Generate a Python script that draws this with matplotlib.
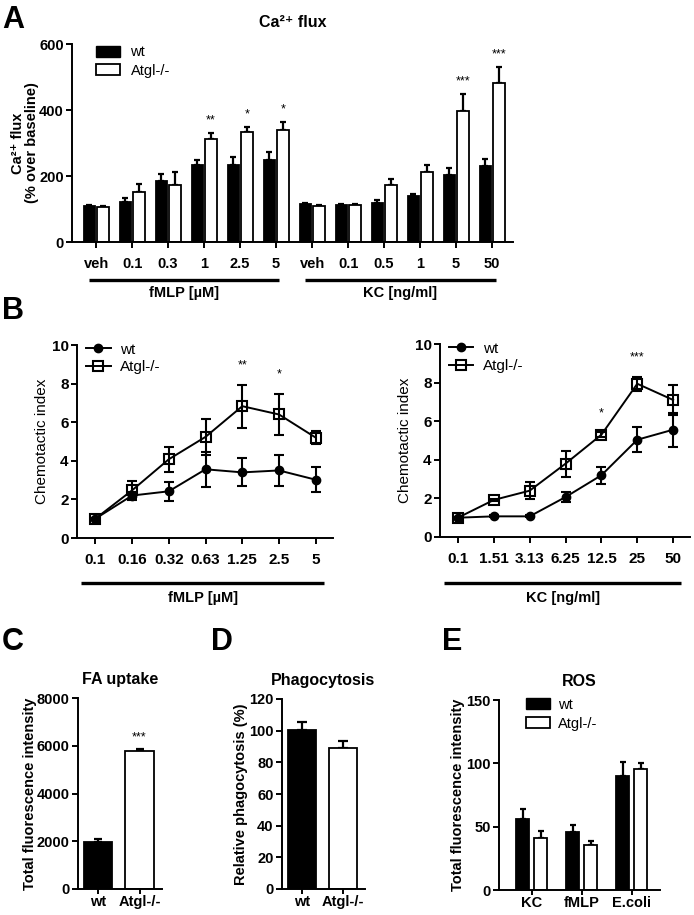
import numpy as np
import matplotlib
matplotlib.use('Agg')
import matplotlib.pyplot as plt
from matplotlib.patches import Patch
from matplotlib.lines import Line2D
from matplotlib.transforms import blended_transform_factory

plt.rcParams['font.family'] = ['Liberation Sans', 'DejaVu Sans']
plt.rcParams['axes.linewidth'] = 1.4

# ---- A: Ca2+ flux
ca_labels = ['veh', '0.1', '0.3', '1', '2.5', '5', 'veh', '0.1', '0.5', '1', '5', '50']
ca_wt = [108, 121, 184, 232, 232, 247, 116, 113, 118, 138, 204, 230]
ca_wt_err = [3, 12, 23, 17, 25, 25, 3, 3, 8, 8, 20, 22]
ca_ko = [107, 153, 174, 312, 333, 338, 109, 111, 173, 211, 398, 482]
ca_ko_err = [3, 23, 38, 18, 17, 25, 3, 3, 18, 23, 51, 47]
ca_stars = {3: '**', 4: '*', 5: '*', 10: '***', 11: '***'}

# ---- B: chemotaxis
fmlp_labels = ['0.1', '0.16', '0.32', '0.63', '1.25', '2.5', '5']
fmlp_wt = [1.0, 2.2, 2.42, 3.56, 3.4, 3.5, 3.02]
fmlp_wt_err = [0.05, 0.2, 0.48, 0.9, 0.72, 0.78, 0.66]
fmlp_ko = [1.0, 2.47, 4.08, 5.24, 6.83, 6.4, 5.2]
fmlp_ko_err = [0.05, 0.5, 0.65, 0.95, 1.12, 1.05, 0.35]
fmlp_stars = {4: '**', 5: '*'}

kc_labels = ['0.1', '1.51', '3.13', '6.25', '12.5', '25', '50']
kc_wt = [1.0, 1.07, 1.07, 2.07, 3.2, 5.04, 5.56]
kc_wt_err = [0.05, 0.05, 0.05, 0.25, 0.45, 0.65, 0.88]
kc_ko = [1.0, 1.92, 2.4, 3.8, 5.3, 7.94, 7.1]
kc_ko_err = [0.05, 0.06, 0.45, 0.67, 0.12, 0.35, 0.8]
kc_stars = {4: '*', 5: '***'}

# ---- C, D, E
geno = ['wt', 'Atgl-/-']
fa_vals = [1977, 5785]
fa_err = [100, 95]
phago_vals = [100.3, 89.1]
phago_err = [5.0, 4.4]
ros_labels = ['KC', 'fMLP', 'E.coli']
ros_wt = [55.9, 46.0, 90.3]
ros_wt_err = [8.0, 5.4, 11.0]
ros_ko = [41.2, 35.9, 95.8]
ros_ko_err = [5.4, 2.7, 4.7]

W, H = 694, 915
fig = plt.figure(figsize=(W / 100, H / 100), dpi=100)


def px_axes(l, t, r, b):
    return fig.add_axes([l / W, 1 - b / H, (r - l) / W, (b - t) / H])


def style(ax, fs=10):
    ax.spines['top'].set_visible(False)
    ax.spines['right'].set_visible(False)
    ax.tick_params(direction='out', length=4, width=1.4, labelsize=fs, pad=2)
    for lab in ax.get_xticklabels() + ax.get_yticklabels():
        lab.set_fontweight('bold')


def bar_err(ax, x, vals, err, width, color):
    ax.bar(x, vals, width, color=color, edgecolor='black', linewidth=1.3, zorder=2)
    ax.errorbar(x, vals, yerr=[np.zeros(len(err)), err], fmt='none', ecolor='black',
                elinewidth=1.6, capsize=2.5, capthick=1.6, zorder=1)


def stars(ax, x, tops, marks, dy):
    for i, s in marks.items():
        ax.annotate(s, (x[i], tops[i]), xytext=(0, dy), textcoords='offset points',
                    ha='center', va='center', fontsize=9)


def letter(x, y, s):
    fig.text(x / W, 1 - y / H, s, fontsize=22, fontweight='bold', va='top', ha='left')


# ================= A
axA = px_axes(72, 44, 513, 242)
xA = np.arange(len(ca_labels))
off, bw = 0.185, 0.32
bar_err(axA, xA - off, ca_wt, ca_wt_err, bw, 'black')
bar_err(axA, xA + off, ca_ko, ca_ko_err, bw, 'white')
stars(axA, xA + off, np.array(ca_ko) + np.array(ca_ko_err), ca_stars, 9)
axA.set_xlim(-0.67, 11.58)
axA.set_ylim(0, 600)
axA.set_yticks([0, 200, 400, 600])
axA.set_xticks(xA)
axA.set_xticklabels(ca_labels)
style(axA, 10.5)
axA.tick_params(axis='x', pad=7)
axA.set_ylabel('Ca\u00b2\u207a flux\n(% over baseline)', fontsize=10.5, fontweight='bold',
               labelpad=0, linespacing=0.95)
axA.set_title('Ca\u00b2\u207a flux', fontsize=11.5, fontweight='bold', pad=12)
axA.legend([Patch(facecolor='black', edgecolor='black'), Patch(facecolor='white', edgecolor='black', linewidth=1.3)],
           ['wt', 'Atgl-/-'], loc='upper left', bbox_to_anchor=(0.05, 1.0), frameon=False,
           fontsize=10.5, handlelength=1.7, handleheight=0.8, handletextpad=0.7,
           labelspacing=0.3, borderpad=0.1, borderaxespad=0)
trA = blended_transform_factory(axA.transData, fig.transFigure)
for (x0, x1, lab) in [(-0.2, 5.08, 'fMLP [\u00b5M]'), (5.8, 11.1, 'KC [ng/ml]')]:
    axA.plot([x0, x1], [1 - 280 / H] * 2, color='black', lw=2.4, transform=trA, clip_on=False,
             solid_capstyle='butt')
    axA.text((x0 + x1) / 2, 1 - 293 / H, lab, transform=trA, ha='center', va='center',
             fontsize=10.5, fontweight='bold')

# ================= B


def chemo(ax, labels, wt, wt_err, ko, ko_err, marks, grp):
    x = np.arange(len(labels))
    ax.errorbar(x, ko, yerr=ko_err, color='black', lw=1.4, marker='s', ms=7.5, mfc='none',
                mec='black', mew=1.5, capsize=3.5, capthick=1.5, elinewidth=1.5, zorder=3)
    ax.errorbar(x, wt, yerr=wt_err, color='black', lw=1.4, marker='o', ms=6, mfc='black',
                mec='black', capsize=3.5, capthick=1.5, elinewidth=1.5, zorder=3)
    stars(ax, x, np.array(ko) + np.array(ko_err), marks, 14)
    ax.set_xlim(-0.5, 6.47)
    ax.set_ylim(0, 10)
    ax.set_yticks([0, 2, 4, 6, 8, 10])
    ax.set_xticks(x)
    ax.set_xticklabels(labels)
    style(ax, 11)
    ax.tick_params(axis='x', pad=7)
    ax.set_ylabel('Chemotactic index', fontsize=11, labelpad=2)
    ax.legend([Line2D([], [], color='black', lw=1.4, marker='o', ms=6),
               Line2D([], [], color='black', lw=1.4, marker='s', ms=7.5, mfc='none', mew=1.5)],
              ['wt', 'Atgl-/-'], loc='upper left', bbox_to_anchor=(0.03, 1.02), frameon=False,
              fontsize=11, handlelength=1.6, handletextpad=0.6, labelspacing=0.25,
              borderpad=0.1, borderaxespad=0)
    tr = blended_transform_factory(ax.transData, fig.transFigure)
    ax.plot([-0.38, 6.22], [1 - 583 / H] * 2, color='black', lw=2.4, transform=tr, clip_on=False,
            solid_capstyle='butt')
    ax.text(2.92, 1 - 598 / H, grp, transform=tr, ha='center', va='center', fontsize=10.5,
            fontweight='bold')


axB1 = px_axes(77, 345, 333, 538)
chemo(axB1, fmlp_labels, fmlp_wt, fmlp_wt_err, fmlp_ko, fmlp_ko_err, fmlp_stars, 'fMLP [\u00b5M]')
axB2 = px_axes(440, 344, 690, 537)
chemo(axB2, kc_labels, kc_wt, kc_wt_err, kc_ko, kc_ko_err, kc_stars, 'KC [ng/ml]')

# ================= C
axC = px_axes(78, 698, 162, 889)
xg = np.arange(2)
axC.bar(xg, fa_vals, 0.68, color=['black', 'white'], edgecolor='black', linewidth=1.3, zorder=2)
axC.errorbar(xg, fa_vals, yerr=[[0, 0], fa_err], fmt='none', ecolor='black', elinewidth=1.6,
             capsize=3, capthick=1.6, zorder=1)
stars(axC, xg, np.array(fa_vals) + np.array(fa_err), {1: '***'}, 8)
axC.set_xlim(-0.48, 1.54)
axC.set_ylim(0, 8000)
axC.set_yticks([0, 2000, 4000, 6000, 8000])
axC.set_xticks(xg)
axC.set_xticklabels(geno)
style(axC, 10.5)
axC.tick_params(axis='x', pad=1, length=3.5)
axC.set_ylabel('Total fluorescence intensity', fontsize=10.5, fontweight='bold', labelpad=0)
axC.set_title('FA uptake', fontsize=11.5, fontweight='bold', pad=10)

# ================= D
axD = px_axes(282, 699, 365, 889)
axD.bar(xg, phago_vals, 0.7, color=['black', 'white'], edgecolor='black', linewidth=1.3, zorder=2)
axD.errorbar(xg, phago_vals, yerr=[[0, 0], phago_err], fmt='none', ecolor='black', elinewidth=1.6,
             capsize=3.5, capthick=1.6, zorder=1)
axD.set_xlim(-0.49, 1.54)
axD.set_ylim(0, 120)
axD.set_yticks([0, 20, 40, 60, 80, 100, 120])
axD.set_xticks(xg)
axD.set_xticklabels(geno)
style(axD, 10.5)
axD.tick_params(axis='x', pad=1, length=3.5)
axD.set_ylabel('Relative phagocytosis (%)', fontsize=10.5, fontweight='bold', labelpad=1)
axD.set_title('Phagocytosis', fontsize=11.5, fontweight='bold', pad=10)

# ================= E
axE = px_axes(499, 700, 660, 890)
xr = np.arange(len(ros_labels))
bar_err(axE, xr - 0.18, ros_wt, ros_wt_err, 0.26, 'black')
bar_err(axE, xr + 0.18, ros_ko, ros_ko_err, 0.26, 'white')
axE.set_xlim(-0.66, 2.56)
axE.set_ylim(0, 150)
axE.set_yticks([0, 50, 100, 150])
axE.set_xticks(xr)
axE.set_xticklabels(ros_labels)
style(axE, 10.5)
axE.tick_params(axis='x', pad=1, length=3.5)
axE.set_ylabel('Total fluorescence intensity', fontsize=10.5, fontweight='bold', labelpad=0.5)
axE.set_title('ROS', fontsize=11.5, fontweight='bold', pad=10)
axE.legend([Patch(facecolor='black', edgecolor='black'), Patch(facecolor='white', edgecolor='black', linewidth=1.3)],
           ['wt', 'Atgl-/-'], loc='upper left', bbox_to_anchor=(0.16, 1.02), frameon=False,
           fontsize=10.5, handlelength=1.6, handleheight=0.8, handletextpad=0.6,
           labelspacing=0.35, borderpad=0.1, borderaxespad=0)

letter(2, 5, 'A')
letter(2, 296, 'B')
letter(2, 627, 'C')
letter(211, 627, 'D')
letter(442, 627, 'E')

fig.savefig('out.png', dpi=100)
